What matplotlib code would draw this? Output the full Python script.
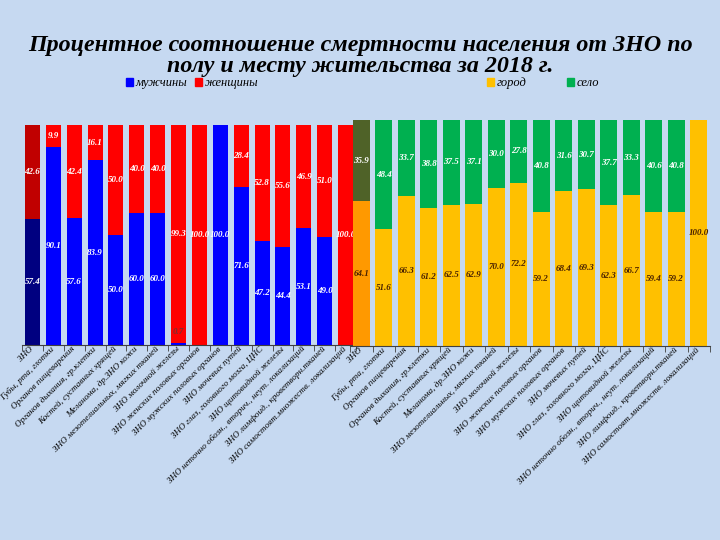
import numpy as np
import matplotlib.pyplot as plt
from matplotlib.patches import Patch

# categories (same for both panels)
categories = [
    "ЗНО",
    "Губы, рта, глотки",
    "Органов пищеварения",
    "Органов дыхания, гр.клетки",
    "Костей, суставных хрящей",
    "Меланома, др.ЗНО кожи",
    "ЗНО мезотелиальных, мягких тканей",
    "ЗНО молочной железы",
    "ЗНО женских половых органов",
    "ЗНО мужских половых органов",
    "ЗНО мочевых путей",
    "ЗНО глаз, головного мозга, ЦНС",
    "ЗНО щитовидной железы",
    "ЗНО неточно обозн., вторич., неут. локализаций",
    "ЗНО лимфоид., кроветворн.тканей",
    "ЗНО самостоят.множеств. локализаций",
]

# by sex, %
men = [57.4, 90.1, 57.6, 83.9, 50.0, 60.0, 60.0, 0.7, 0.0, 100.0, 71.6, 47.2, 44.4, 53.1, 49.0, 0.0]
women = [42.6, 9.9, 42.4, 16.1, 50.0, 40.0, 40.0, 99.3, 100.0, 0.0, 28.4, 52.8, 55.6, 46.9, 51.0, 100.0]

# by place of residence, %
city = [64.1, 51.6, 66.3, 61.2, 62.5, 62.9, 70.0, 72.2, 59.2, 68.4, 69.3, 62.3, 66.7, 59.4, 59.2, 100.0]
village = [35.9, 48.4, 33.7, 38.8, 37.5, 37.1, 30.0, 27.8, 40.8, 31.6, 30.7, 37.7, 33.3, 40.6, 40.8, 0.0]

title = "Процентное соотношение смертности населения от ЗНО по\nполу и месту жительства за 2018 г."

BG = "#C6D9F1"
SERIF = ["Liberation Serif", "DejaVu Serif"]


def stacked(ax, bottom_vals, top_vals, colors_b, colors_t, lab_b, lab_t, width):
    x = np.arange(len(bottom_vals))
    ax.bar(x, bottom_vals, width, color=colors_b, linewidth=0)
    ax.bar(x, top_vals, width, bottom=bottom_vals, color=colors_t, linewidth=0)
    for i in x:
        b, t = bottom_vals[i], top_vals[i]
        if b > 0:
            # tiny segments get their label just above the bar base
            y = b / 2 if b > 5 else 6
            ax.text(i, y, f"{b:.1f}", ha="center", va="center", fontsize=6.5,
                    style="italic", weight="bold", family=SERIF,
                    color=lab_b if b > 5 else "#7a3030")
        if t > 0:
            ax.text(i, b + t / 2, f"{t:.1f}", ha="center", va="center", fontsize=6.5,
                    style="italic", weight="bold", family=SERIF, color=lab_t)
    ax.set_xlim(-0.5, len(x) - 0.5)
    ax.set_ylim(0, 100)
    ax.set_facecolor("none")
    for s in ["left", "right", "top"]:
        ax.spines[s].set_visible(False)
    ax.spines["bottom"].set_color("#404040")
    ax.set_yticks([])
    ax.set_xticks(x)
    ax.set_xticks(np.arange(-0.5, len(x)), minor=True)
    ax.tick_params(axis="x", which="major", length=0, pad=2)
    ax.tick_params(axis="x", which="minor", length=4, color="#404040", direction="out")
    ax.set_xticklabels(categories, rotation=45, ha="right", va="center",
                       rotation_mode="anchor", fontsize=6.6, style="italic", family=SERIF)


fig = plt.figure(figsize=(7.2, 5.4), dpi=100, facecolor=BG)

ax1 = fig.add_axes([22 / 720, 195 / 540, 334 / 720, 220 / 540])
col_m = ["#000080"] + ["#0000FF"] * 15
col_w = ["#C00000"] + ["#FF0000"] * 15
stacked(ax1, men, women, col_m, col_w, "white", "white", 0.72)

ax2 = fig.add_axes([350 / 720, 194 / 540, 360 / 720, 226 / 540])
col_c = ["#FF9900"] + ["#FFC000"] * 15
col_v = ["#4F6228"] + ["#00B050"] * 15
stacked(ax2, city, village, col_c, col_v, "#4A2200", "white", 0.75)

fig.text(0.5, 1 - 56 / 540, title, ha="center", va="center", fontsize=17.3,
         style="italic", weight="bold", family=SERIF, linespacing=1.05)

leg_kw = dict(frameon=False, ncol=2, handlelength=0.6, handleheight=0.6,
              handletextpad=0.2, prop={"family": SERIF, "style": "italic", "size": 9})
fig.legend(handles=[Patch(color="#0000FF", label="мужчины"), Patch(color="#FF0000", label="женщины")],
           loc="center", bbox_to_anchor=(192 / 720, 1 - 83 / 540), columnspacing=0.6, **leg_kw)
fig.legend(handles=[Patch(color="#FFC000", label="город"), Patch(color="#00B050", label="село")],
           loc="center", bbox_to_anchor=(543 / 720, 1 - 83 / 540), columnspacing=3.2, **leg_kw)

fig.savefig("out.png", dpi=100, facecolor=BG)
